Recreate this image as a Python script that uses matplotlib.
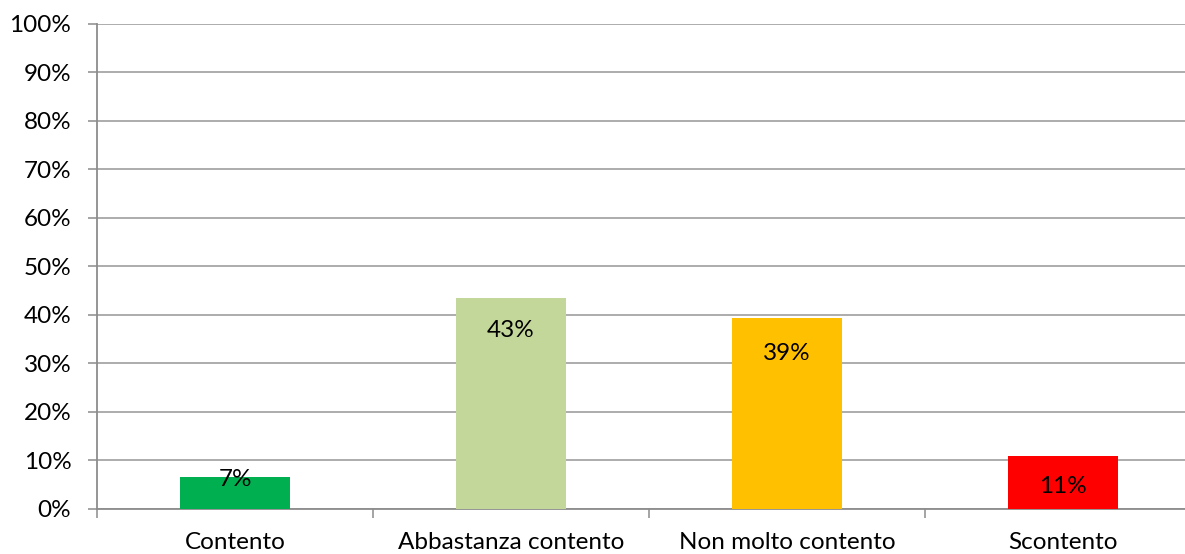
import numpy as np
import matplotlib.pyplot as plt

# DATA
categories = ["Contento", "Abbastanza contento", "Non molto contento", "Scontento"]
values = [6.5, 43.4, 39.3, 10.8]
labels = ["7%", "43%", "39%", "11%"]
colors = ["#00B050", "#C4D79B", "#FFC000", "#FF0000"]
y_ticks = list(range(0, 101, 10))

plt.rcParams["font.family"] = ["Lato", "DejaVu Sans"]

W, H = 1185, 554
fig = plt.figure(figsize=(W / 100, H / 100), dpi=100)
fig.patch.set_facecolor("white")

# AXES POSITION (pixel based, right edge runs past the figure)
left, right = 97, 1201
top, bottom = 24, 508.5
ax = fig.add_axes([left / W, (H - bottom) / H, (right - left) / W, (bottom - top) / H])

x = np.arange(len(categories))
ax.bar(x, values, width=0.4, color=colors, zorder=3)

# DATA LABELS
offsets = [-2, -32, -35, -30]
for xi, v, lab, off in zip(x, values, labels, offsets):
    ax.annotate(
        lab,
        xy=(xi, v),
        xytext=(0, off * 0.72),
        textcoords="offset points",
        ha="center",
        va="center",
        fontsize=17.5,
        color="black",
        zorder=4
    )

ax.set_xlim(-0.5, len(categories) - 0.5)
ax.set_ylim(0, 100)

# Y AXIS
ax.set_yticks(y_ticks)
ax.set_yticklabels([f"{t}%" for t in y_ticks], fontsize=17.5)
ax.yaxis.grid(True, color="#a6a6a6", linewidth=1.3, zorder=0)
ax.tick_params(axis="y", length=6.5, width=1.1, color="#8c8c8c", pad=12)

# X AXIS
ax.set_xticks(x)
ax.set_xticklabels(categories, fontsize=17.5)
ax.set_xticks(np.arange(-0.5, len(categories), 1), minor=True)
ax.tick_params(axis="x", which="major", length=0, pad=17)
ax.tick_params(axis="x", which="minor", length=6.5, width=1.1, color="#8c8c8c")

for side in ["top", "right"]:
    ax.spines[side].set_visible(False)
ax.spines["left"].set_color("#8c8c8c")
ax.spines["bottom"].set_color("#8c8c8c")
ax.spines["left"].set_linewidth(1.3)
ax.spines["bottom"].set_linewidth(1.3)

fig.savefig("out.png", dpi=100, facecolor="white")
plt.close()
